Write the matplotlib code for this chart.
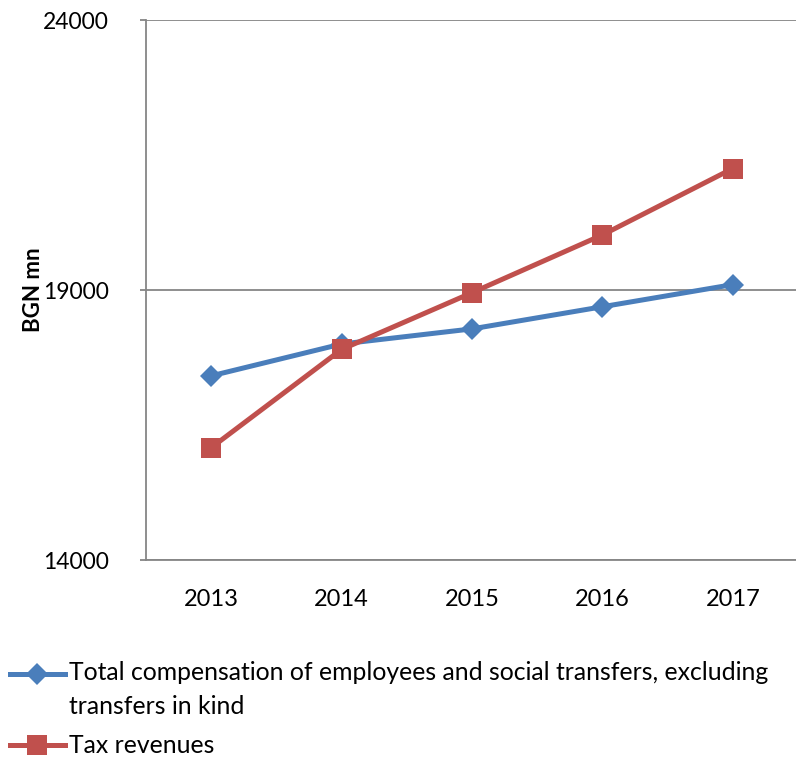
import matplotlib.pyplot as plt
from matplotlib.lines import Line2D

plt.rcParams['font.family'] = ['Lato', 'DejaVu Sans']

# Series values, BGN mn
years = ['2013', '2014', '2015', '2016', '2017']
compensation = [17410, 18000, 18280, 18690, 19100]
tax_revenues = [16080, 17900, 18950, 20020, 21250]

comp_label = 'Total compensation of employees and social transfers, excluding\ntransfers in kind'
tax_label = 'Tax revenues'

blue = '#4A7EBB'
red = '#C0504D'
grey = '#868686'

W, H = 796, 758
fig = plt.figure(figsize=(W / 100, H / 100), dpi=100)
ax = fig.add_axes([146 / W, 1 - 560 / H, 652 / W, 540 / H])

x = range(len(years))
ax.plot(x, compensation, color=blue, lw=3.6, marker='D', markersize=11,
        markeredgewidth=0, zorder=3)
ax.plot(x, tax_revenues, color=red, lw=3.6, marker='s', markersize=14,
        markeredgewidth=0, zorder=4)

ax.set_xlim(-0.5, len(years) - 0.5)
ax.set_ylim(14000, 24000)
ax.set_yticks([14000, 19000, 24000])
ax.set_xticks(list(x))
ax.set_xticklabels(years)
ax.yaxis.grid(True, color=grey, lw=1.3)
ax.set_axisbelow(True)

for side in ['top', 'right']:
    ax.spines[side].set_visible(False)
for side in ['left', 'bottom']:
    ax.spines[side].set_color(grey)
    ax.spines[side].set_linewidth(1.3)

ax.tick_params(axis='y', length=4, color=grey, width=1.3, pad=23, labelsize=16.5)
ax.tick_params(axis='x', length=0, pad=21, labelsize=17)
ax.set_ylabel('BGN mn', fontsize=16, fontweight='bold')
ax.yaxis.set_label_coords(-0.157, 0.5)

# Legend below the plot
def legend_entry(y_px, color, marker, size, text, top_px):
    yf = 1 - y_px / H
    fig.add_artist(Line2D([10 / W, 65 / W], [yf, yf], transform=fig.transFigure,
                          color=color, lw=3.6))
    fig.add_artist(Line2D([37 / W], [yf], transform=fig.transFigure,
                          color=color, marker=marker, markersize=size,
                          markeredgewidth=0))
    fig.text(69 / W, 1 - top_px / H, text, fontsize=17.8, va='top', ha='left',
             linespacing=1.6)

legend_entry(674, blue, 'D', 11, comp_label, 661)
legend_entry(745, red, 's', 14, tax_label, 734)

fig.savefig('out.png', dpi=100)
